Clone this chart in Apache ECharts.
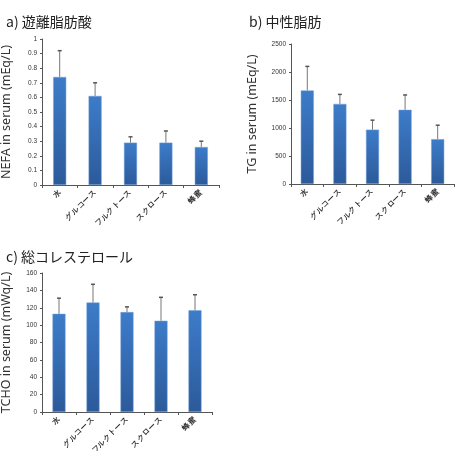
<!DOCTYPE html>
<html>
<head>
<meta charset="utf-8">
<script src="https://cdn.jsdelivr.net/npm/echarts@6/dist/echarts.min.js"></script>
<style>
    html, body { margin: 0; padding: 0; background: #fff; }
    #chart { width: 464px; height: 451px; }
</style>
</head>
<body>
<div id="chart"></div>
<script>
// カテゴリ
const categories = ['水', 'グルコース', 'フルクトース', 'スクロース', '蜂蜜'];

// a) 遊離脂肪酸
const nefaMean = [0.74, 0.61, 0.29, 0.29, 0.26];
const nefaErrTop = [0.92, 0.70, 0.33, 0.37, 0.30];
// b) 中性脂肪
const tgMean = [1670, 1430, 970, 1325, 800];
const tgErrTop = [2100, 1600, 1140, 1590, 1050];
// c) 総コレステロール
const tchoMean = [113, 126, 115, 105, 117];
const tchoErrTop = [131, 147, 121, 132, 135];

const titles = ['a) 遊離脂肪酸', 'b) 中性脂肪', 'c) 総コレステロール'];
const yNames = ['NEFA in serum (mEq/L)', 'TG in serum (mEq/L)', 'TCHO in serum (mWq/L)'];

const axisColor = '#555';
const labelFont = { color: '#333', fontFamily: 'Liberation Sans Narrow, Liberation Sans, sans-serif' };

const barColor = new echarts.graphic.LinearGradient(0, 0, 0, 1, [
    { offset: 0, color: '#3d7cc9' },
    { offset: 1, color: '#2c5a9a' }
]);

const grids = [
    { left: 42, top: 39, width: 177, height: 146, outerBoundsMode: 'none' },
    { left: 291, top: 44, width: 163, height: 140, outerBoundsMode: 'none' },
    { left: 42, top: 273, width: 170, height: 139, outerBoundsMode: 'none' }
];
const yRanges = [
    { max: 1, interval: 0.1, gap: 29 },
    { max: 2500, interval: 500, gap: 32 },
    { max: 160, interval: 20, gap: 29 }
];

function makeXAxis(i) {
    return {
        type: 'category',
        gridIndex: i,
        data: categories,
        axisLine: { lineStyle: { color: axisColor, width: 1 } },
        axisTick: { show: true, length: 3, lineStyle: { color: axisColor } },
        axisLabel: Object.assign({ rotate: 45, margin: 6, interval: 0, fontSize: 7.5, fontWeight: 'bold' }, labelFont)
    };
}
function makeYAxis(i) {
    return {
        type: 'value',
        gridIndex: i,
        min: 0,
        max: yRanges[i].max,
        interval: yRanges[i].interval,
        name: yNames[i],
        nameLocation: 'middle',
        nameGap: yRanges[i].gap,
        nameTextStyle: { fontSize: 12.5, color: '#333', fontFamily: 'Noto Sans, sans-serif' },
        axisLine: { show: true, lineStyle: { color: axisColor, width: 1 } },
        axisTick: { show: true, length: 2, lineStyle: { color: axisColor } },
        axisLabel: Object.assign({ margin: 5, fontSize: 6.5, formatter: v => String(+v.toFixed(1)) }, labelFont),
        splitLine: { show: false }
    };
}

// エラーバー(上側のみ)
function errSeries(i, mean, top) {
    return {
        type: 'custom',
        xAxisIndex: i,
        yAxisIndex: i,
        data: mean.map((m, k) => [k, m, top[k]]),
        renderItem: (params, api) => {
            const p0 = api.coord([api.value(0), api.value(1)]);
            const p1 = api.coord([api.value(0), api.value(2)]);
            return {
                type: 'group',
                children: [
                    { type: 'line', shape: { x1: p0[0], y1: p0[1], x2: p1[0], y2: p1[1] }, style: { stroke: '#777', lineWidth: 1 } },
                    { type: 'line', shape: { x1: p1[0] - 2, y1: p1[1], x2: p1[0] + 2, y2: p1[1] }, style: { stroke: '#555', lineWidth: 1.5 } }
                ]
            };
        },
        z: 1
    };
}
function barSeries(i, mean) {
    return {
        type: 'bar',
        xAxisIndex: i,
        yAxisIndex: i,
        data: mean,
        barWidth: 13,
        itemStyle: { color: barColor, borderColor: '#6f9fd8', borderWidth: 0.5 },
        z: 2
    };
}

const option = {
    animation: false,
    backgroundColor: '#fff',
    title: [
        { text: titles[0], left: 1, top: 10 },
        { text: titles[1], left: 244, top: 10 },
        { text: titles[2], left: 1, top: 245 }
    ].map(t => Object.assign(t, { textStyle: { fontSize: 14, fontWeight: 'normal', color: '#222', fontFamily: 'Noto Sans CJK JP, sans-serif' } })),
    grid: grids,
    xAxis: [0, 1, 2].map(makeXAxis),
    yAxis: [0, 1, 2].map(makeYAxis),
    series: [
        errSeries(0, nefaMean, nefaErrTop), barSeries(0, nefaMean),
        errSeries(1, tgMean, tgErrTop), barSeries(1, tgMean),
        errSeries(2, tchoMean, tchoErrTop), barSeries(2, tchoMean)
    ]
};

const myChart = echarts.init(document.getElementById('chart'));
myChart.setOption(option);
</script>
</body>
</html>
